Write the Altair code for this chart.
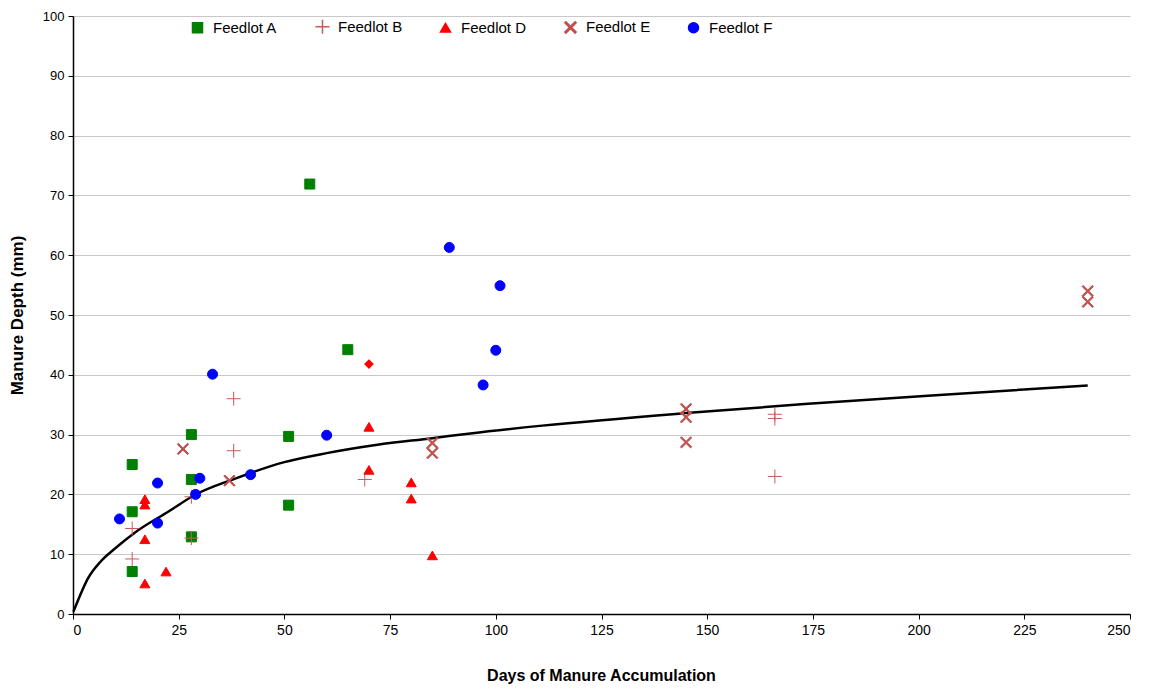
import altair as alt
import pandas as pd

series_names = ["Feedlot A", "Feedlot B", "Feedlot D", "Feedlot E", "Feedlot F"]

a_days = [14, 14, 14, 28, 28, 28, 56, 51, 51, 65]
a_depth = [25.0, 17.1, 7.1, 30.0, 22.5, 12.9, 71.9, 29.7, 18.2, 44.2]

b_days = [14, 14, 28, 28, 38, 38, 69, 166, 166, 166]
b_depth = [14.3, 9.2, 19.6, 12.7, 27.3, 36.0, 22.5, 33.4, 32.7, 23.0]

d_days = [17, 17, 17, 17, 22, 70, 70, 80, 80, 85]
d_depth = [19.2, 18.3, 12.5, 5.1, 7.1, 31.3, 24.1, 22.0, 19.3, 9.8]

e_days = [26, 37, 85, 85, 145, 145, 145, 240, 240]
e_depth = [27.6, 22.3, 28.6, 26.9, 34.3, 32.9, 28.7, 54.0, 52.2]

f_days = [11, 20, 20, 29, 30, 33, 42, 60, 89, 101, 100, 97]
f_depth = [15.9, 21.9, 15.2, 20.0, 22.7, 40.1, 23.3, 29.9, 61.3, 54.9, 44.1, 38.3]

extra_days = [70]
extra_depth = [41.8]

fit_days = [0.1, 1.2, 3.5, 6.7, 10, 14.6, 22.5, 28.8, 38.2, 50, 60, 72, 85, 94, 111, 145, 173, 204, 240]
fit_depth = [0.4, 2.3, 5.9, 8.9, 11.0, 13.6, 17.1, 19.9, 22.6, 25.4, 26.9, 28.3, 29.4, 30.2, 31.5, 33.6, 35.1, 36.6, 38.2]

rows = []
for name, days, depth in zip(series_names,
                             [a_days, b_days, d_days, e_days, f_days],
                             [a_depth, b_depth, d_depth, e_depth, f_depth]):
    for dd, vv in zip(days, depth):
        rows.append({"series": name, "days": dd, "depth": vv})
df = pd.DataFrame(rows)
fit_df = pd.DataFrame({"days": fit_days, "depth": fit_depth})
extra_df = pd.DataFrame({"days": extra_days, "depth": extra_depth})

plus_path = "M-1.4,0L1.4,0M0,-1.4L0,1.4"
x_path = ("M0.919,-1.131L1.131,-0.919L0.212,0L1.131,0.919L0.919,1.131L0,0.212"
          "L-0.919,1.131L-1.131,0.919L-0.212,0L-1.131,-0.919L-0.919,-1.131L0,-0.212Z")
shapes = ["square", plus_path, "triangle-up", x_path, "circle"]
colors = ["#008000", "#C85A5A", "#FF0000", "#C0504D", "#0000FF"]

FONT = "Liberation Sans"

legend = alt.Legend(
    title=None, orient="none", direction="horizontal", columns=5,
    legendX=117, legendY=3, labelFontSize=15, labelFont=FONT,
    labelColor="#000000", symbolSize=100, labelOffset=8,
    columnPadding=34, padding=0,
)

x_enc = alt.X("days:Q", scale=alt.Scale(domain=[0, 250], nice=False),
              axis=alt.Axis(values=list(range(0, 251, 25)), grid=False,
                            title="Days of Manure Accumulation", titleFontSize=16,
                            titleX=528, titleY=61, titleBaseline="middle"))
y_enc = alt.Y("depth:Q", scale=alt.Scale(domain=[0, 100], nice=False),
              axis=alt.Axis(values=list(range(0, 101, 10)), grid=True, labelFontSize=13,
                            title="Manure Depth (mm)", titleFontSize=17,
                            titleX=-56, titleY=299, titleBaseline="middle"))

line = alt.Chart(fit_df).mark_line(color="black", strokeWidth=2.5, interpolate="monotone").encode(
    x=x_enc, y=y_enc
)

points = alt.Chart(df).mark_point(filled=True, size=100, opacity=1, strokeWidth=1).encode(
    x=x_enc, y=y_enc,
    fill=alt.Fill("series:N", scale=alt.Scale(domain=series_names, range=colors), legend=legend),
    stroke=alt.Stroke("series:N", scale=alt.Scale(domain=series_names, range=colors), legend=legend),
    shape=alt.Shape("series:N", scale=alt.Scale(domain=series_names, range=shapes), legend=legend),
)

extra = alt.Chart(extra_df).mark_point(shape="diamond", filled=True, color="#FF0000", size=95, opacity=1).encode(
    x=x_enc, y=y_enc
)

chart = alt.layer(line, points, extra).properties(
    width=1057, height=598,
    autosize=alt.AutoSizeParams(type="none"),
    padding={"left": 65, "top": 8, "right": 10, "bottom": 72},
).configure_view(stroke=None).configure_axis(
    labelFont=FONT, labelFontSize=14, labelColor="#000000",
    titleFont=FONT, titleFontWeight="bold", titleColor="#000000",
    domainColor="#000000", domainWidth=1.5, tickColor="#000000", tickSize=5,
    gridColor="#C8C8C8", gridWidth=1, labelPadding=4,
)

chart.save("out.html", embed_options={"renderer": "svg", "actions": False})
